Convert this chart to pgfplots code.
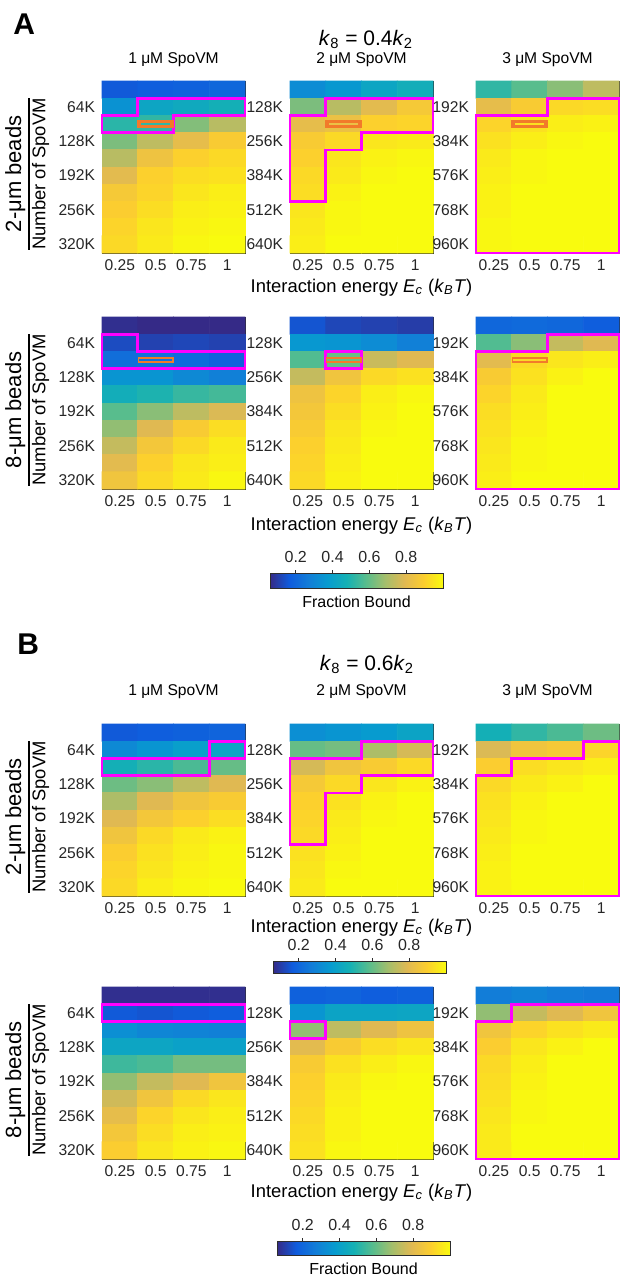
\documentclass[border=0pt]{standalone}
\usepackage{pgfplots}
\pgfplotsset{compat=1.18}
\usepackage{pgfplotstable}
\usepackage{fontspec}
\setmainfont{Liberation Sans}
\definecolor{markorange}{RGB}{242,122,42}
\definecolor{axgray}{RGB}{45,45,45}
\definecolor{mag}{RGB}{255,0,255}

\pgfplotsset{
  colormap={parula}{rgb255=(53,42,135) rgb255=(15,92,221) rgb255=(18,125,216)
    rgb255=(7,156,207) rgb255=(21,177,180) rgb255=(89,189,140) rgb255=(165,190,107)
    rgb255=(225,185,82) rgb255=(252,206,46) rgb255=(249,251,14)},
  hm/.style={
    scale only axis, width=71.5pt, height=86pt, anchor=north west,
    enlargelimits=false, y dir=reverse, clip=false,
    colormap name=parula, point meta min=0.06, point meta max=1,
    xmin=0.125, xmax=1.125,
    xtick={0.25,0.5,0.75,1}, xticklabels={0.25,0.5,0.75,1},
    tick align=inside, major tick length=2pt,
    axis line style={draw=axgray, line width=0.5pt},
    every tick/.style={axgray, line width=0.4pt},
    tick label style={font=\fontsize{7.8}{9}\selectfont, text=black!85},
    title style={font=\fontsize{7.8}{9}\selectfont, anchor=base, at={(0.5,1)}},
    xlabel style={font=\fontsize{9.2}{11}\selectfont, at={(axis description cs:0.5,0)}, anchor=base},
    ylabel style={font=\fontsize{9.2}{11}\selectfont, at={(axis description cs:-0.3,0.46)}, anchor=south},
    /pgf/number format/assume math mode=true,
  },
  s1/.style={ymin=16, ymax=336, ytick={64,128,192,256,320}, yticklabels={64K,128K,192K,256K,320K}},
  s2/.style={ymin=32, ymax=672, ytick={128,256,384,512,640}, yticklabels={128K,256K,384K,512K,640K}},
  s3/.style={ymin=48, ymax=1008, ytick={192,384,576,768,960}, yticklabels={192K,384K,576K,768K,960K}},
  heat/.style={matrix plot*, mesh/cols=4, point meta=explicit},
  outl/.style={draw=mag, line width=1.3pt, line join=miter, line cap=rect, mark=none},
  mk/.style={draw=markorange, line width=#1, line join=miter, line cap=rect, mark=none},
  cbar/.style={at={(parent axis.north west)}, anchor=north west, scale only axis,
    xtick={0.2,0.4,0.6,0.8}, xticklabels={0.2,0.4,0.6,0.8},
    xtick pos=right, xticklabel pos=right, tick align=outside, major tick length=1.5pt,
    axis line style={draw=axgray}, every tick/.style={axgray},
    tick label style={font=\fontsize{8}{9}\selectfont, text=black!85},
    xlabel style={font=\fontsize{8}{9}\selectfont, at={(axis description cs:0.5,0)}, anchor=north, inner sep=0pt, yshift=-3.5pt},
    /pgf/number format/assume math mode=true},
}

\newcommand{\ylab}[1]{{\setlength\arrayrulewidth{1.1pt}\begin{tabular}{@{}c@{}}\fontsize{11}{12}\selectfont #1\\\hline Number of SpoVM\end{tabular}}}
\newcommand{\ecx}{Interaction energy \textit{E}\textsubscript{\textit{c}} (\textit{k}\textsubscript{\textit{B}}\textit{T})}

% fraction bound, panel A (k8 = 0.4 k2)
\pgfplotstableread[row sep=\\]{
x y c\\
0.25 32 0.16\\ 0.5 32 0.17\\ 0.75 32 0.18\\ 1 32 0.20\\
0.25 64 0.34\\ 0.5 64 0.42\\ 0.75 64 0.44\\ 1 64 0.47\\
0.25 96 0.51\\ 0.5 96 0.52\\ 0.75 96 0.64\\ 1 96 0.72\\
0.25 128 0.63\\ 0.5 128 0.73\\ 0.75 128 0.81\\ 1 128 0.88\\
0.25 160 0.72\\ 0.5 160 0.84\\ 0.75 160 0.90\\ 1 160 0.92\\
0.25 192 0.80\\ 0.5 192 0.90\\ 0.75 192 0.93\\ 1 192 0.94\\
0.25 224 0.87\\ 0.5 224 0.91\\ 0.75 224 0.95\\ 1 224 0.97\\
0.25 256 0.89\\ 0.5 256 0.93\\ 0.75 256 0.97\\ 1 256 0.98\\
0.25 288 0.91\\ 0.5 288 0.95\\ 0.75 288 0.98\\ 1 288 0.99\\
0.25 320 0.92\\ 0.5 320 0.96\\ 0.75 320 0.99\\ 1 320 1.00\\
}\AtwoOne
\pgfplotstableread[row sep=\\]{
x y c\\
0.25 64 0.32\\ 0.5 64 0.36\\ 0.75 64 0.42\\ 1 64 0.46\\
0.25 128 0.63\\ 0.5 128 0.72\\ 0.75 128 0.80\\ 1 128 0.87\\
0.25 192 0.81\\ 0.5 192 0.83\\ 0.75 192 0.90\\ 1 192 0.91\\
0.25 256 0.88\\ 0.5 256 0.92\\ 0.75 256 0.95\\ 1 256 0.96\\
0.25 320 0.90\\ 0.5 320 0.95\\ 0.75 320 0.98\\ 1 320 0.99\\
0.25 384 0.92\\ 0.5 384 0.96\\ 0.75 384 0.99\\ 1 384 1.00\\
0.25 448 0.93\\ 0.5 448 0.98\\ 0.75 448 1.00\\ 1 448 1.00\\
0.25 512 0.95\\ 0.5 512 0.99\\ 0.75 512 1.00\\ 1 512 1.00\\
0.25 576 0.96\\ 0.5 576 0.99\\ 0.75 576 1.00\\ 1 576 1.00\\
0.25 640 0.97\\ 0.5 640 1.00\\ 0.75 640 1.00\\ 1 640 1.00\\
}\AtwoTwo
\pgfplotstableread[row sep=\\]{
x y c\\
0.25 96 0.52\\ 0.5 96 0.58\\ 0.75 96 0.65\\ 1 96 0.73\\
0.25 192 0.81\\ 0.5 192 0.88\\ 0.75 192 0.92\\ 1 192 0.93\\
0.25 288 0.91\\ 0.5 288 0.94\\ 0.75 288 0.97\\ 1 288 0.98\\
0.25 384 0.94\\ 0.5 384 0.97\\ 0.75 384 0.99\\ 1 384 1.00\\
0.25 480 0.96\\ 0.5 480 0.99\\ 0.75 480 1.00\\ 1 480 1.00\\
0.25 576 0.97\\ 0.5 576 0.99\\ 0.75 576 1.00\\ 1 576 1.00\\
0.25 672 0.98\\ 0.5 672 1.00\\ 0.75 672 1.00\\ 1 672 1.00\\
0.25 768 0.98\\ 0.5 768 1.00\\ 0.75 768 1.00\\ 1 768 1.00\\
0.25 864 0.99\\ 0.5 864 1.00\\ 0.75 864 1.00\\ 1 864 1.00\\
0.25 960 0.99\\ 0.5 960 1.00\\ 0.75 960 1.00\\ 1 960 1.00\\
}\AtwoThree
\pgfplotstableread[row sep=\\]{
x y c\\
0.25 32 0.07\\ 0.5 32 0.06\\ 0.75 32 0.06\\ 1 32 0.06\\
0.25 64 0.13\\ 0.5 64 0.11\\ 0.75 64 0.12\\ 1 64 0.11\\
0.25 96 0.22\\ 0.5 96 0.23\\ 0.75 96 0.21\\ 1 96 0.18\\
0.25 128 0.35\\ 0.5 128 0.35\\ 0.75 128 0.31\\ 1 128 0.28\\
0.25 160 0.46\\ 0.5 160 0.49\\ 0.75 160 0.53\\ 1 160 0.55\\
0.25 192 0.58\\ 0.5 192 0.65\\ 0.75 192 0.73\\ 1 192 0.78\\
0.25 224 0.66\\ 0.5 224 0.79\\ 0.75 224 0.88\\ 1 224 0.93\\
0.25 256 0.74\\ 0.5 256 0.86\\ 0.75 256 0.92\\ 1 256 0.96\\
0.25 288 0.80\\ 0.5 288 0.90\\ 0.75 288 0.95\\ 1 288 0.97\\
0.25 320 0.85\\ 0.5 320 0.92\\ 0.75 320 0.96\\ 1 320 0.99\\
}\AeightOne
\pgfplotstableread[row sep=\\]{
x y c\\
0.25 64 0.15\\ 0.5 64 0.12\\ 0.75 64 0.11\\ 1 64 0.10\\
0.25 128 0.36\\ 0.5 128 0.35\\ 0.75 128 0.32\\ 1 128 0.28\\
0.25 192 0.57\\ 0.5 192 0.60\\ 0.75 192 0.75\\ 1 192 0.79\\
0.25 256 0.74\\ 0.5 256 0.85\\ 0.75 256 0.92\\ 1 256 0.94\\
0.25 320 0.84\\ 0.5 320 0.91\\ 0.75 320 0.97\\ 1 320 0.99\\
0.25 384 0.86\\ 0.5 384 0.93\\ 0.75 384 0.98\\ 1 384 1.00\\
0.25 448 0.88\\ 0.5 448 0.95\\ 0.75 448 0.99\\ 1 448 1.00\\
0.25 512 0.90\\ 0.5 512 0.96\\ 0.75 512 1.00\\ 1 512 1.00\\
0.25 576 0.91\\ 0.5 576 0.97\\ 0.75 576 1.00\\ 1 576 1.00\\
0.25 640 0.92\\ 0.5 640 0.98\\ 0.75 640 1.00\\ 1 640 1.00\\
}\AeightTwo
\pgfplotstableread[row sep=\\]{
x y c\\
0.25 96 0.20\\ 0.5 96 0.21\\ 0.75 96 0.20\\ 1 96 0.17\\
0.25 192 0.57\\ 0.5 192 0.65\\ 0.75 192 0.74\\ 1 192 0.79\\
0.25 288 0.80\\ 0.5 288 0.92\\ 0.75 288 0.95\\ 1 288 0.97\\
0.25 384 0.88\\ 0.5 384 0.94\\ 0.75 384 0.98\\ 1 384 1.00\\
0.25 480 0.91\\ 0.5 480 0.96\\ 0.75 480 1.00\\ 1 480 1.00\\
0.25 576 0.93\\ 0.5 576 0.97\\ 0.75 576 1.00\\ 1 576 1.00\\
0.25 672 0.94\\ 0.5 672 0.98\\ 0.75 672 1.00\\ 1 672 1.00\\
0.25 768 0.95\\ 0.5 768 0.99\\ 0.75 768 1.00\\ 1 768 1.00\\
0.25 864 0.96\\ 0.5 864 0.99\\ 0.75 864 1.00\\ 1 864 1.00\\
0.25 960 0.97\\ 0.5 960 1.00\\ 0.75 960 1.00\\ 1 960 1.00\\
}\AeightThree

% fraction bound, panel B (k8 = 0.6 k2)
\pgfplotstableread[row sep=\\]{
x y c\\
0.25 32 0.16\\ 0.5 32 0.17\\ 0.75 32 0.18\\ 1 32 0.19\\
0.25 64 0.31\\ 0.5 64 0.35\\ 0.75 64 0.39\\ 1 64 0.41\\
0.25 96 0.47\\ 0.5 96 0.51\\ 0.75 96 0.56\\ 1 96 0.60\\
0.25 128 0.61\\ 0.5 128 0.65\\ 0.75 128 0.73\\ 1 128 0.79\\
0.25 160 0.70\\ 0.5 160 0.79\\ 0.75 160 0.85\\ 1 160 0.88\\
0.25 192 0.79\\ 0.5 192 0.86\\ 0.75 192 0.90\\ 1 192 0.93\\
0.25 224 0.85\\ 0.5 224 0.92\\ 0.75 224 0.96\\ 1 224 0.98\\
0.25 256 0.89\\ 0.5 256 0.94\\ 0.75 256 0.97\\ 1 256 0.99\\
0.25 288 0.91\\ 0.5 288 0.95\\ 0.75 288 0.98\\ 1 288 0.99\\
0.25 320 0.92\\ 0.5 320 0.97\\ 0.75 320 0.99\\ 1 320 1.00\\
}\BtwoOne
\pgfplotstableread[row sep=\\]{
x y c\\
0.25 64 0.33\\ 0.5 64 0.35\\ 0.75 64 0.37\\ 1 64 0.41\\
0.25 128 0.60\\ 0.5 128 0.62\\ 0.75 128 0.70\\ 1 128 0.77\\
0.25 192 0.77\\ 0.5 192 0.85\\ 0.75 192 0.88\\ 1 192 0.92\\
0.25 256 0.87\\ 0.5 256 0.92\\ 0.75 256 0.95\\ 1 256 0.98\\
0.25 320 0.90\\ 0.5 320 0.94\\ 0.75 320 0.98\\ 1 320 1.00\\
0.25 384 0.91\\ 0.5 384 0.96\\ 0.75 384 0.99\\ 1 384 1.00\\
0.25 448 0.92\\ 0.5 448 0.97\\ 0.75 448 1.00\\ 1 448 1.00\\
0.25 512 0.94\\ 0.5 512 0.98\\ 0.75 512 1.00\\ 1 512 1.00\\
0.25 576 0.95\\ 0.5 576 0.99\\ 0.75 576 1.00\\ 1 576 1.00\\
0.25 640 0.96\\ 0.5 640 1.00\\ 0.75 640 1.00\\ 1 640 1.00\\
}\BtwoTwo
\pgfplotstableread[row sep=\\]{
x y c\\
0.25 96 0.47\\ 0.5 96 0.52\\ 0.75 96 0.56\\ 1 96 0.61\\
0.25 192 0.78\\ 0.5 192 0.85\\ 0.75 192 0.87\\ 1 192 0.91\\
0.25 288 0.89\\ 0.5 288 0.93\\ 0.75 288 0.95\\ 1 288 0.97\\
0.25 384 0.92\\ 0.5 384 0.96\\ 0.75 384 0.98\\ 1 384 1.00\\
0.25 480 0.94\\ 0.5 480 0.98\\ 0.75 480 1.00\\ 1 480 1.00\\
0.25 576 0.95\\ 0.5 576 0.99\\ 0.75 576 1.00\\ 1 576 1.00\\
0.25 672 0.96\\ 0.5 672 0.99\\ 0.75 672 1.00\\ 1 672 1.00\\
0.25 768 0.97\\ 0.5 768 1.00\\ 0.75 768 1.00\\ 1 768 1.00\\
0.25 864 0.98\\ 0.5 864 1.00\\ 0.75 864 1.00\\ 1 864 1.00\\
0.25 960 0.98\\ 0.5 960 1.00\\ 0.75 960 1.00\\ 1 960 1.00\\
}\BtwoThree
\pgfplotstableread[row sep=\\]{
x y c\\
0.25 32 0.07\\ 0.5 32 0.07\\ 0.75 32 0.07\\ 1 32 0.07\\
0.25 64 0.16\\ 0.5 64 0.15\\ 0.75 64 0.16\\ 1 64 0.17\\
0.25 96 0.33\\ 0.5 96 0.30\\ 0.75 96 0.29\\ 1 96 0.28\\
0.25 128 0.42\\ 0.5 128 0.42\\ 0.75 128 0.40\\ 1 128 0.40\\
0.25 160 0.54\\ 0.5 160 0.56\\ 0.75 160 0.62\\ 1 160 0.62\\
0.25 192 0.66\\ 0.5 192 0.74\\ 0.75 192 0.79\\ 1 192 0.85\\
0.25 224 0.76\\ 0.5 224 0.85\\ 0.75 224 0.92\\ 1 224 0.95\\
0.25 256 0.81\\ 0.5 256 0.91\\ 0.75 256 0.95\\ 1 256 0.97\\
0.25 288 0.86\\ 0.5 288 0.93\\ 0.75 288 0.97\\ 1 288 0.98\\
0.25 320 0.89\\ 0.5 320 0.95\\ 0.75 320 0.98\\ 1 320 0.99\\
}\BeightOne
\pgfplotstableread[row sep=\\]{
x y c\\
0.25 64 0.18\\ 0.5 64 0.19\\ 0.75 64 0.17\\ 1 64 0.18\\
0.25 128 0.35\\ 0.5 128 0.41\\ 0.75 128 0.41\\ 1 128 0.42\\
0.25 192 0.66\\ 0.5 192 0.73\\ 0.75 192 0.79\\ 1 192 0.84\\
0.25 256 0.80\\ 0.5 256 0.88\\ 0.75 256 0.93\\ 1 256 0.95\\
0.25 320 0.88\\ 0.5 320 0.94\\ 0.75 320 0.97\\ 1 320 0.99\\
0.25 384 0.90\\ 0.5 384 0.96\\ 0.75 384 0.99\\ 1 384 1.00\\
0.25 448 0.91\\ 0.5 448 0.97\\ 0.75 448 1.00\\ 1 448 1.00\\
0.25 512 0.92\\ 0.5 512 0.98\\ 0.75 512 1.00\\ 1 512 1.00\\
0.25 576 0.93\\ 0.5 576 0.98\\ 0.75 576 1.00\\ 1 576 1.00\\
0.25 640 0.94\\ 0.5 640 0.99\\ 0.75 640 1.00\\ 1 640 1.00\\
}\BeightTwo
\pgfplotstableread[row sep=\\]{
x y c\\
0.25 96 0.27\\ 0.5 96 0.29\\ 0.75 96 0.27\\ 1 96 0.26\\
0.25 192 0.66\\ 0.5 192 0.74\\ 0.75 192 0.79\\ 1 192 0.85\\
0.25 288 0.85\\ 0.5 288 0.91\\ 0.75 288 0.94\\ 1 288 0.96\\
0.25 384 0.89\\ 0.5 384 0.95\\ 0.75 384 0.98\\ 1 384 1.00\\
0.25 480 0.92\\ 0.5 480 0.97\\ 0.75 480 1.00\\ 1 480 1.00\\
0.25 576 0.93\\ 0.5 576 0.98\\ 0.75 576 1.00\\ 1 576 1.00\\
0.25 672 0.94\\ 0.5 672 0.99\\ 0.75 672 1.00\\ 1 672 1.00\\
0.25 768 0.95\\ 0.5 768 0.99\\ 0.75 768 1.00\\ 1 768 1.00\\
0.25 864 0.96\\ 0.5 864 1.00\\ 0.75 864 1.00\\ 1 864 1.00\\
0.25 960 0.96\\ 0.5 960 1.00\\ 0.75 960 1.00\\ 1 960 1.00\\
}\BeightThree

\begin{document}
\begin{tikzpicture}
\useasboundingbox (0,0) rectangle (310pt,-638pt);

% ---------------- A ----------------
\node[anchor=north west, inner sep=0pt, font=\fontsize{15}{18}\selectfont\bfseries] at (6.5pt,-6.5pt) {A};
\node[anchor=base, font=\fontsize{10.5}{12}\selectfont] at (183pt,-22.5pt) {\textit{k}\textsubscript{8} = 0.4\textit{k}\textsubscript{2}};

\begin{axis}[hm, s1, at={(51pt,-40.5pt)}, title={1 μM SpoVM}, title style={yshift=3pt}, ylabel={\ylab{2-μm beads}}]
\addplot[heat] table[meta=c] {\AtwoOne};
\addplot[outl] coordinates {(0.375,48) (1.125,48) (1.125,80) (0.625,80) (0.625,112) (0.125,112) (0.125,80) (0.375,80) (0.375,48)};
\addplot[mk=1.7pt] coordinates {(0.385,91) (0.615,91) (0.615,101) (0.385,101) (0.385,91)};
\end{axis}
\begin{axis}[hm, s2, at={(145pt,-40.5pt)}, title={2 μM SpoVM}, title style={yshift=3pt}, xlabel={\ecx}, xlabel style={yshift=-19.5pt}]
\addplot[heat] table[meta=c] {\AtwoTwo};
\addplot[outl] coordinates {(0.375,96) (1.125,96) (1.125,224) (0.625,224) (0.625,288) (0.375,288) (0.375,480) (0.125,480) (0.125,160) (0.375,160) (0.375,96)};
\addplot[mk=1.7pt] coordinates {(0.385,182) (0.615,182) (0.615,202) (0.385,202) (0.385,182)};
\end{axis}
\begin{axis}[hm, s3, at={(238pt,-40.5pt)}, title={3 μM SpoVM}, title style={yshift=3pt}]
\addplot[heat] table[meta=c] {\AtwoThree};
\addplot[outl] coordinates {(0.625,144) (1.125,144) (1.125,1008) (0.125,1008) (0.125,240) (0.625,240) (0.625,144)};
\addplot[mk=1.7pt] coordinates {(0.385,273) (0.615,273) (0.615,303) (0.385,303) (0.385,273)};
\end{axis}

\begin{axis}[hm, s1, at={(51pt,-158.5pt)}, ylabel={\ylab{8-μm beads}}]
\addplot[heat] table[meta=c] {\AeightOne};
\addplot[outl] coordinates {(0.125,48) (0.375,48) (0.375,80) (1.125,80) (1.125,112) (0.125,112) (0.125,48)};
\addplot[mk=0.8pt] coordinates {(0.38,92.2) (0.62,92.2) (0.62,99.8) (0.38,99.8) (0.38,92.2)};
\end{axis}
\begin{axis}[hm, s2, at={(145pt,-158.5pt)}, xlabel={\ecx}, xlabel style={yshift=-20.5pt}]
\addplot[heat] table[meta=c] {\AeightTwo};
\addplot[outl] coordinates {(0.375,160) (0.625,160) (0.625,224) (0.375,224) (0.375,160)};
\addplot[mk=0.8pt] coordinates {(0.38,184) (0.62,184) (0.62,200) (0.38,200) (0.38,184)};
\end{axis}
\begin{axis}[hm, s3, at={(238pt,-158.5pt)}]
\addplot[heat] table[meta=c] {\AeightThree};
\addplot[outl] coordinates {(0.625,144) (1.125,144) (1.125,1008) (0.125,1008) (0.125,240) (0.625,240) (0.625,144)};
\addplot[mk=0.8pt] coordinates {(0.38,276.5) (0.62,276.5) (0.62,299.5) (0.38,299.5) (0.38,276.5)};
\end{axis}

\begin{axis}[at={(135pt,-278pt)}, anchor=north west, hide axis, scale only axis, width=0pt, height=0pt,
  colormap name=parula, point meta min=0.06, point meta max=1, colorbar horizontal,
  colorbar style={cbar, width=86.5pt, height=7.5pt, xlabel={Fraction Bound}}]
\addplot[draw=none] coordinates {(0,0)};
\end{axis}

% ---------------- B ----------------
\node[anchor=north west, inner sep=0pt, font=\fontsize{15}{18}\selectfont\bfseries] at (8.5pt,-316.5pt) {B};
\node[anchor=base, font=\fontsize{10.5}{12}\selectfont] at (183.5pt,-335pt) {\textit{k}\textsubscript{8} = 0.6\textit{k}\textsubscript{2}};

\begin{axis}[hm, s1, at={(51pt,-362pt)}, title={1 μM SpoVM}, title style={yshift=8.5pt}, ylabel={\ylab{2-μm beads}}]
\addplot[heat] table[meta=c] {\BtwoOne};
\addplot[outl] coordinates {(0.875,48) (1.125,48) (1.125,80) (0.875,80) (0.875,112) (0.125,112) (0.125,80) (0.875,80) (0.875,48)};
\end{axis}
\begin{axis}[hm, s2, at={(145pt,-362pt)}, title={2 μM SpoVM}, title style={yshift=8.5pt}, xlabel={\ecx}, xlabel style={yshift=-18pt}]
\addplot[heat] table[meta=c] {\BtwoTwo};
\addplot[outl] coordinates {(0.625,96) (1.125,96) (1.125,224) (0.625,224) (0.625,288) (0.375,288) (0.375,480) (0.125,480) (0.125,160) (0.625,160) (0.625,96)};
\end{axis}
\begin{axis}[hm, s3, at={(238pt,-362pt)}, title={3 μM SpoVM}, title style={yshift=8.5pt}]
\addplot[heat] table[meta=c] {\BtwoThree};
\addplot[outl] coordinates {(0.875,144) (1.125,144) (1.125,1008) (0.125,1008) (0.125,336) (0.375,336) (0.375,240) (0.875,240) (0.875,144)};
\end{axis}

\begin{axis}[at={(136.5pt,-472pt)}, anchor=north west, hide axis, scale only axis, width=0pt, height=0pt,
  colormap name=parula, point meta min=0.06, point meta max=1, colorbar horizontal,
  colorbar style={cbar, width=86.5pt, height=6pt}]
\addplot[draw=none] coordinates {(0,0)};
\end{axis}

\begin{axis}[hm, s1, at={(51pt,-493.5pt)}, ylabel={\ylab{8-μm beads}}]
\addplot[heat] table[meta=c] {\BeightOne};
\addplot[outl] coordinates {(0.125,48) (1.125,48) (1.125,80) (0.125,80) (0.125,48)};
\end{axis}
\begin{axis}[hm, s2, at={(145pt,-493.5pt)}, xlabel={\ecx}, xlabel style={yshift=-19pt}]
\addplot[heat] table[meta=c] {\BeightTwo};
\addplot[outl] coordinates {(0.125,160) (0.375,160) (0.375,224) (0.125,224) (0.125,160)};
\end{axis}
\begin{axis}[hm, s3, at={(238pt,-493.5pt)}]
\addplot[heat] table[meta=c] {\BeightThree};
\addplot[outl] coordinates {(0.375,144) (1.125,144) (1.125,1008) (0.125,1008) (0.125,240) (0.375,240) (0.375,144)};
\end{axis}

\begin{axis}[at={(138.5pt,-612pt)}, anchor=north west, hide axis, scale only axis, width=0pt, height=0pt,
  colormap name=parula, point meta min=0.06, point meta max=1, colorbar horizontal,
  colorbar style={cbar, width=86.5pt, height=7pt, xlabel={Fraction Bound}}]
\addplot[draw=none] coordinates {(0,0)};
\end{axis}
\end{tikzpicture}
\end{document}
